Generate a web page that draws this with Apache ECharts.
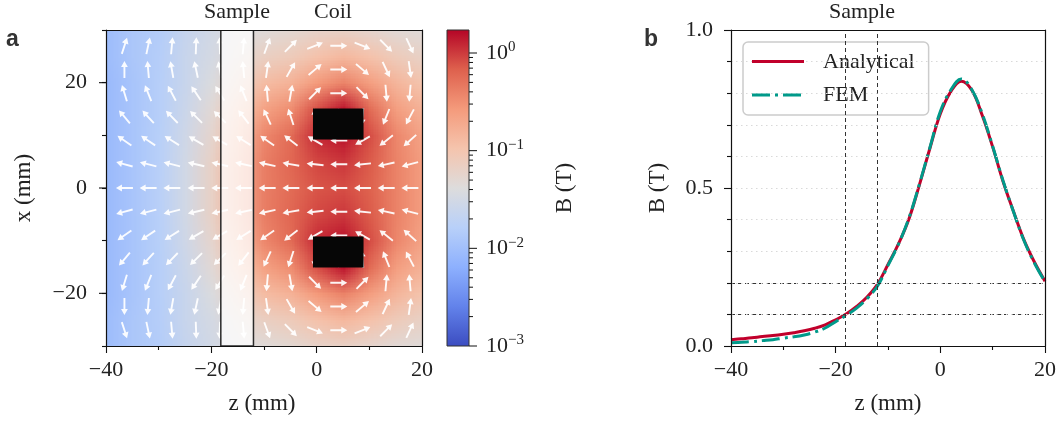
<!DOCTYPE html>
<html><head><meta charset="utf-8">
<script src="https://cdn.jsdelivr.net/npm/echarts@6/dist/echarts.min.js"></script>
<style>html,body{margin:0;padding:0;background:#fff}#c{width:1059px;height:425px}</style>
</head><body><div id="c"></div>
<script>
// ---------------- data ----------------
// Panel a: field magnitude |B| as log10(B / T) on a coarse grid (read from colours)
const fieldZ = [-40,-35,-30,-25,-20,-15,-10,-5,0,5,10,15,20];
const fieldX = [30,25,20,15,10,5,0,-5,-10,-15,-20,-25,-30];
const fieldLogB = [
  [-2.03,-1.90,-1.82,-1.64,-1.51,-1.38,-1.35,-1.29,-1.22,-1.19,-1.25,-1.32,-1.35],
  [-2.03,-1.90,-1.81,-1.61,-1.48,-1.29,-1.16,-1.09,-0.96,-0.86,-0.96,-1.09,-1.19],
  [-2.06,-1.93,-1.80,-1.61,-1.41,-1.16,-0.90,-0.80,-0.57,-0.41,-0.61,-0.83,-0.99],
  [-2.06,-1.93,-1.80,-1.58,-1.32,-0.99,-0.64,-0.48,-0.09, 0.17,-0.25,-0.61,-0.80],
  [-2.06,-1.93,-1.79,-1.54,-1.25,-0.86,-0.44,-0.25, 0.07, 0.17,-0.09,-0.44,-0.67],
  [-2.06,-1.93,-1.78,-1.51,-1.19,-0.77,-0.38,-0.22,-0.06, 0.01,-0.15,-0.41,-0.61],
  [-2.06,-1.93,-1.77,-1.51,-1.19,-0.74,-0.38,-0.25,-0.12,-0.09,-0.19,-0.41,-0.61],
  [-2.06,-1.93,-1.78,-1.51,-1.19,-0.77,-0.38,-0.22,-0.06, 0.01,-0.15,-0.41,-0.61],
  [-2.06,-1.93,-1.79,-1.54,-1.25,-0.86,-0.44,-0.25, 0.07, 0.17,-0.09,-0.44,-0.67],
  [-2.06,-1.93,-1.80,-1.58,-1.32,-0.99,-0.64,-0.48,-0.09, 0.17,-0.25,-0.61,-0.80],
  [-2.06,-1.93,-1.80,-1.61,-1.41,-1.16,-0.90,-0.80,-0.57,-0.41,-0.61,-0.83,-0.99],
  [-2.03,-1.90,-1.81,-1.61,-1.48,-1.29,-1.16,-1.09,-0.96,-0.86,-0.96,-1.09,-1.19],
  [-2.03,-1.90,-1.82,-1.64,-1.51,-1.38,-1.35,-1.29,-1.22,-1.19,-1.25,-1.32,-1.35]
];
// Panel a: quiver arrows (direction in degrees, 0 = +z, 90 = +x)
const arrowZ = [-36.5,-32.0,-27.5,-22.9,-18.4,-13.9,-9.4,-4.9,-0.3,4.2,8.7,13.2,17.7];
const arrowX = [27,22.5,18,13.5,9,4.5,0,-4.5,-9,-13.5,-18,-22.5,-27];
const arrowAngle = [
  [  72,  78,  85,  88,  92,  85,  70,  45,  22,   0, -22, -45, -65],
  [  90,  95, 100, 102, 100,  95,  82,  60,  40,   0, -40, -65, -82],
  [ 107, 112, 118, 124, 122, 112,  95,  80,  45,   0, -45, -85, -95],
  [ 130, 132, 134, 135, 135, 128, 115, 108,  95,  90, -95,-112,-118],
  [ 145, 146, 148, 150, 150, 148, 145, 142, 150, 180,-150,-142,-138],
  [ 165, 166, 166, 167, 167, 168, 168, 170, 174, 180,-174,-168,-165],
  [ 180, 180, 180, 180, 180, 180, 180, 180, 180, 180, 180, 180, 180],
  [-165,-166,-166,-167,-167,-168,-168,-170,-174, 180, 174, 168, 165],
  [-145,-146,-148,-150,-150,-148,-145,-142,-150, 180, 150, 142, 138],
  [-130,-132,-134,-135,-135,-128,-115,-108, -95, -90,  95, 112, 118],
  [-107,-112,-118,-124,-122,-112, -95, -80, -45,   0,  45,  85,  95],
  [ -90, -95,-100,-102,-100, -95, -82, -60, -40,   0,  40,  65,  82],
  [ -72, -78, -85, -88, -92, -85, -70, -45, -22,   0,  22,  45,  65]
];
const sampleZ = [-18.2, -12.0];
const coilBlocks = [[-0.7, 8.9, 9.2, 15.1], [-0.7, 8.9, -15.1, -9.2]];
const yMajorA = [-20, 0, 20];
// Colour bar (log scale, T)
const cbRange = [0.001, 1.72];
const cbMajor = [0.001, 0.01, 0.1, 1];
const cbMinor = [0.002,0.003,0.004,0.005,0.006,0.007,0.008,0.009,
                 0.02,0.03,0.04,0.05,0.06,0.07,0.08,0.09,
                 0.2,0.3,0.4,0.5,0.6,0.7,0.8,0.9];
// Panel b: on-axis profile
const profileZ = [-40,-38,-36,-34,-32,-30,-28,-26,-24,-22,-20,-18,-16,-14,-12,-10,-8,-6,-4,-2,0,2,4,6,8,10,12,14,16,18,20];
const bAnalytical = [0.020,0.023,0.026,0.030,0.033,0.037,0.042,0.048,0.056,0.067,0.083,0.101,0.125,0.155,0.196,0.258,0.323,0.402,0.510,0.625,0.735,0.805,0.838,0.810,0.730,0.630,0.520,0.425,0.335,0.265,0.205];
const bFEM        = [0.010,0.012,0.014,0.017,0.020,0.025,0.029,0.035,0.044,0.057,0.077,0.097,0.120,0.150,0.190,0.255,0.322,0.405,0.512,0.628,0.742,0.810,0.845,0.812,0.735,0.632,0.522,0.424,0.333,0.262,0.203];
const sampleB = [0.097, 0.195];

// ---------------- helpers ----------------
const SERIF = 'Liberation Serif';
const TXT = '#222';
const AX = '#111';
const RED = '#c1002b', TEAL = '#009a8a';
const FEM_DASH = [18, 5, 3, 5];
const fmtNum = v => (v < 0 ? '\u2212' + Math.abs(v) : String(v));
const CW = [[0,59,76,192],[0.125,98,130,234],[0.25,141,176,254],[0.375,184,208,249],[0.5,221,220,220],
            [0.625,245,196,173],[0.75,244,154,123],[0.875,222,96,77],[1,180,4,38]];
function coolwarm(t){
  t = Math.max(0, Math.min(1, t));
  for (let i = 1; i < CW.length; i++) {
    if (t <= CW[i][0]) {
      const a = CW[i-1], b = CW[i], f = (t - a[0]) / (b[0] - a[0]);
      return [0,1,2].map(k => Math.round(a[k+1] + (b[k+1] - a[k+1]) * f));
    }
  }
  return [180,4,38];
}
const LO = Math.log10(cbRange[0]), HI = Math.log10(cbRange[1]);
function makeFieldCanvas(){
  const nR = fieldX.length, nC = fieldZ.length;
  const cv = document.createElement('canvas'); cv.width = nC; cv.height = nR;
  const ctx = cv.getContext('2d'); const im = ctx.createImageData(nC, nR);
  for (let r = 0; r < nR; r++) for (let c = 0; c < nC; c++) {
    const col = coolwarm((fieldLogB[r][c] - LO) / (HI - LO));
    const o = (r * nC + c) * 4;
    im.data[o] = col[0]; im.data[o+1] = col[1]; im.data[o+2] = col[2]; im.data[o+3] = 255;
  }
  ctx.putImageData(im, 0, 0);
  return cv;
}
const fieldCanvas = makeFieldCanvas();

const arrowData = [];
arrowX.forEach((x, i) => arrowZ.forEach((z, j) => arrowData.push([z, x, arrowAngle[i][j]])));

const cbTickData = cbMajor.map(v => [0, Math.log10(v), 8]).concat(cbMinor.map(v => [0, Math.log10(v), 4]));

const lineAx = { show: true, onZero: false, lineStyle: { color: AX, width: 1.2 } };
const tickStyle = { color: AX, width: 1.1 };
const labelBase = { fontFamily: SERIF, fontSize: 22, color: TXT };
const titleFont = '23px "Liberation Serif"';
function txt(x, y, text, font, extra) {
  return Object.assign({ type: 'text', x: x, y: y, silent: true,
    style: { text: text, font: font, fill: TXT, textAlign: 'center', textVerticalAlign: 'middle', align: 'center', verticalAlign: 'middle' } }, extra || {});
}

const chart = echarts.init(document.getElementById('c'), null, { renderer: 'canvas', width: 1059, height: 425 });

const option = {
  animation: false,
  backgroundColor: '#fff',
  textStyle: { fontFamily: SERIF },
  grid: [
    { left: 106, top: 30, width: 316, height: 316 },
    { left: 447, top: 30, width: 22, height: 316 },
    { left: 731, top: 30, width: 315, height: 316 }
  ],
  xAxis: [
    { gridIndex: 0, type: 'value', min: -40, max: 20, interval: 20, position: 'bottom', z: 10,
      axisLine: lineAx, axisTick: { show: true, length: 7, lineStyle: tickStyle },
      minorTick: { show: true, splitNumber: 2, length: 4, lineStyle: tickStyle },
      axisLabel: Object.assign({ margin: 13, formatter: fmtNum }, labelBase), splitLine: { show: false } },
    { gridIndex: 0, type: 'value', min: -40, max: 20, position: 'top', z: 10,
      axisLine: lineAx, axisTick: { show: false }, axisLabel: { show: false }, splitLine: { show: false } },
    { gridIndex: 1, type: 'value', min: 0, max: 1, show: false },
    { gridIndex: 2, type: 'value', min: -40, max: 20, interval: 20, position: 'bottom', z: 10,
      axisLine: lineAx, axisTick: { show: true, length: 7, lineStyle: tickStyle },
      minorTick: { show: true, splitNumber: 2, length: 4, lineStyle: tickStyle },
      axisLabel: Object.assign({ margin: 13, formatter: fmtNum }, labelBase), splitLine: { show: false } },
    { gridIndex: 2, type: 'value', min: -40, max: 20, position: 'top', z: 10,
      axisLine: lineAx, axisTick: { show: false }, axisLabel: { show: false }, splitLine: { show: false } }
  ],
  yAxis: [
    { gridIndex: 0, type: 'value', min: -30, max: 30, interval: 10, position: 'left', z: 10,
      axisLine: lineAx, axisTick: { show: true, length: 4, lineStyle: tickStyle },
      axisLabel: Object.assign({ margin: 19, formatter: v => (v % 20 === 0 ? fmtNum(v) : '') }, labelBase),
      splitLine: { show: false } },
    { gridIndex: 0, type: 'value', min: -30, max: 30, position: 'right', z: 10,
      axisLine: lineAx, axisTick: { show: false }, axisLabel: { show: false }, splitLine: { show: false } },
    { gridIndex: 1, type: 'value', min: LO, max: HI, interval: 1, position: 'right', z: 10,
      axisLine: { show: false }, axisTick: { show: false }, splitLine: { show: false },
      axisLabel: Object.assign({ margin: 17, lineHeight: 26,
        formatter: v => (Math.abs(v - Math.round(v)) < 1e-6 ? '10{s|' + fmtNum(Math.round(v)) + '}' : ''),
        rich: { s: { fontFamily: SERIF, fontSize: 15, lineHeight: 15, verticalAlign: 'top', color: TXT } } }, labelBase) },
    { gridIndex: 2, type: 'value', min: 0, max: 1, interval: 0.5, position: 'left', z: 10,
      axisLine: lineAx, axisTick: { show: true, length: 7, lineStyle: tickStyle },
      minorTick: { show: true, splitNumber: 5, length: 4, lineStyle: tickStyle },
      splitLine: { show: true, lineStyle: { color: '#d9d9d9', type: [1.5, 3.5], width: 1.2 } },
      minorSplitLine: { show: true, lineStyle: { color: '#d9d9d9', type: [1.5, 3.5], width: 1.2 } },
      axisLabel: Object.assign({ margin: 18, formatter: v => v.toFixed(1) }, labelBase) },
    { gridIndex: 2, type: 'value', min: 0, max: 1, position: 'right', z: 10,
      axisLine: lineAx, axisTick: { show: false }, axisLabel: { show: false }, splitLine: { show: false } }
  ],
  legend: {
    data: ['Analytical', 'FEM'],
    orient: 'vertical', left: 743, top: 42,
    padding: [9, 14, 9, 9], itemGap: 11, itemWidth: 52, itemHeight: 14,
    icon: 'rect', itemStyle: { opacity: 0 },
    backgroundColor: 'rgba(255,255,255,0.85)', borderColor: '#cccccc', borderWidth: 1.5, borderRadius: 5,
    textStyle: { fontFamily: SERIF, fontSize: 22, color: TXT, padding: [0, 0, 0, 14] }
  },
  graphic: [
    { type: 'text', x: 6, y: 40, silent: true, style: { text: 'a', font: 'bold 23px "Liberation Sans"', fill: '#333', textAlign: 'left', textVerticalAlign: 'middle', align: 'left', verticalAlign: 'middle' } },
    { type: 'text', x: 644, y: 40, silent: true, style: { text: 'b', font: 'bold 23px "Liberation Sans"', fill: '#333', textAlign: 'left', textVerticalAlign: 'middle', align: 'left', verticalAlign: 'middle' } },
    txt(237, 12, 'Sample', '22px "Liberation Serif"'),
    txt(333, 12, 'Coil', '22px "Liberation Serif"'),
    txt(862, 12, 'Sample', '22px "Liberation Serif"'),
    txt(262, 404, 'z (mm)', titleFont),
    txt(888, 404, 'z (mm)', titleFont),
    txt(24, 188, 'x (mm)', titleFont, { rotation: Math.PI / 2 }),
    txt(565, 188, 'B (T)', titleFont, { rotation: Math.PI / 2 }),
    txt(658, 188, 'B (T)', titleFont, { rotation: Math.PI / 2 }),
    // legend keys (line samples)
    { type: 'line', z: 100, silent: true, shape: { x1: 752, y1: 61.5, x2: 804, y2: 61.5 },
      style: { stroke: RED, lineWidth: 3 } },
    { type: 'line', z: 100, silent: true, shape: { x1: 752, y1: 95, x2: 804, y2: 95 },
      style: { stroke: TEAL, lineWidth: 3, lineDash: FEM_DASH } }
  ],
  series: [
    // field magnitude image (bilinear upscaled grid)
    { type: 'custom', xAxisIndex: 0, yAxisIndex: 0, clip: true, silent: true, data: [[0, 0]],
      renderItem: (params, api) => {
        const nC = fieldZ.length, nR = fieldX.length;
        const dz = fieldZ[1] - fieldZ[0], dx = fieldX[0] - fieldX[1];
        const p0 = api.coord([fieldZ[0] - dz / 2, fieldX[0] + dx / 2]);
        const p1 = api.coord([fieldZ[nC - 1] + dz / 2, fieldX[nR - 1] - dx / 2]);
        return { type: 'image', style: { image: fieldCanvas, x: p0[0], y: p0[1], width: p1[0] - p0[0], height: p1[1] - p0[1] } };
      } },
    // quiver arrows
    { type: 'custom', xAxisIndex: 0, yAxisIndex: 0, clip: true, silent: true, data: arrowData,
      dimensions: ['z', 'x', 'ang'], encode: { x: 0, y: 1 },
      renderItem: (params, api) => {
        const c = api.coord([api.value(0), api.value(1)]);
        const a = api.value(2) * Math.PI / 180;
        const ux = Math.cos(a), uy = -Math.sin(a), px = -uy, py = ux;
        const L = 17, hl = 6, hw = 3.4, sw = 0.95;
        const tx = c[0] - ux * L / 2, ty = c[1] - uy * L / 2;
        const hx = c[0] + ux * L / 2, hy = c[1] + uy * L / 2;
        const bx = hx - ux * hl, by = hy - uy * hl;
        const pts = [[tx + px * sw, ty + py * sw], [bx + px * sw, by + py * sw], [bx + px * hw, by + py * hw], [hx, hy],
                     [bx - px * hw, by - py * hw], [bx - px * sw, by - py * sw], [tx - px * sw, ty - py * sw]];
        return { type: 'polygon', shape: { points: pts }, style: { fill: 'rgba(255,255,255,0.93)' } };
      } },
    // sample region
    { type: 'custom', xAxisIndex: 0, yAxisIndex: 0, clip: true, silent: true, data: [[sampleZ[0], sampleZ[1]]],
      renderItem: (params, api) => {
        const cs = params.coordSys;
        const x0 = api.coord([api.value(0), 0])[0], x1 = api.coord([api.value(1), 0])[0];
        return { type: 'rect', shape: { x: x0, y: cs.y, width: x1 - x0, height: cs.height },
          style: { fill: 'rgba(255,255,255,0.76)', stroke: '#2a2a2a', lineWidth: 1.5 } };
      } },
    // coil cross-sections
    { type: 'custom', xAxisIndex: 0, yAxisIndex: 0, clip: true, silent: true, data: coilBlocks,
      dimensions: ['z0', 'z1', 'x0', 'x1'], encode: { x: [0, 1], y: [2, 3] },
      renderItem: (params, api) => {
        const p0 = api.coord([api.value(0), api.value(3)]);
        const p1 = api.coord([api.value(1), api.value(2)]);
        return { type: 'rect', shape: { x: p0[0], y: p0[1], width: p1[0] - p0[0], height: p1[1] - p0[1] },
          style: { fill: '#060606' } };
      } },
    // major ticks of panel a y axis
    { type: 'custom', xAxisIndex: 0, yAxisIndex: 0, clip: false, silent: true, z: 11, data: yMajorA.map(v => [-40, v]),
      renderItem: (params, api) => {
        const p = api.coord([api.value(0), api.value(1)]);
        return { type: 'line', shape: { x1: p[0] - 7, y1: p[1], x2: p[0], y2: p[1] }, style: { stroke: AX, lineWidth: 1.1 } };
      } },
    // colour bar
    { type: 'custom', xAxisIndex: 2, yAxisIndex: 2, clip: false, silent: true, data: [[0, LO]],
      renderItem: (params, api) => {
        const cs = params.coordSys;
        return { type: 'rect', shape: { x: cs.x, y: cs.y, width: cs.width, height: cs.height },
          style: { fill: { type: 'linear', x: 0, y: 1, x2: 0, y2: 0,
                   colorStops: CW.map(s => ({ offset: s[0], color: 'rgb(' + s[1] + ',' + s[2] + ',' + s[3] + ')' })) },
                   stroke: '#333', lineWidth: 1 } };
      } },
    { type: 'custom', xAxisIndex: 2, yAxisIndex: 2, clip: false, silent: true, data: cbTickData,
      renderItem: (params, api) => {
        const cs = params.coordSys;
        const y = api.coord([0, api.value(1)])[1];
        const xr = cs.x + cs.width;
        return { type: 'line', shape: { x1: xr, y1: y, x2: xr + api.value(2), y2: y }, style: { stroke: AX, lineWidth: 1 } };
      } },
    // panel b reference lines
    { type: 'line', name: 'ref', xAxisIndex: 3, yAxisIndex: 3, data: [], silent: true,
      markLine: { silent: true, symbol: ['none', 'none'], label: { show: false },
        lineStyle: { color: '#333', type: [4, 3], width: 1 },
        data: sampleZ.map(z => ({ xAxis: z })).concat(sampleB.map(b => ({ yAxis: b }))) } },
    { type: 'line', name: 'Analytical', xAxisIndex: 3, yAxisIndex: 3, symbol: 'none', showSymbol: false,
      smooth: 0.4,
      color: RED, lineStyle: { color: RED, width: 3 },
      data: profileZ.map((z, i) => [z, bAnalytical[i]]) },
    { type: 'line', name: 'FEM', xAxisIndex: 3, yAxisIndex: 3, symbol: 'none', showSymbol: false,
      smooth: 0.4,
      color: TEAL, lineStyle: { color: TEAL, width: 3, type: FEM_DASH },
      data: profileZ.map((z, i) => [z, bFEM[i]]) }
  ]
};
chart.setOption(option);
</script>
</body></html>
